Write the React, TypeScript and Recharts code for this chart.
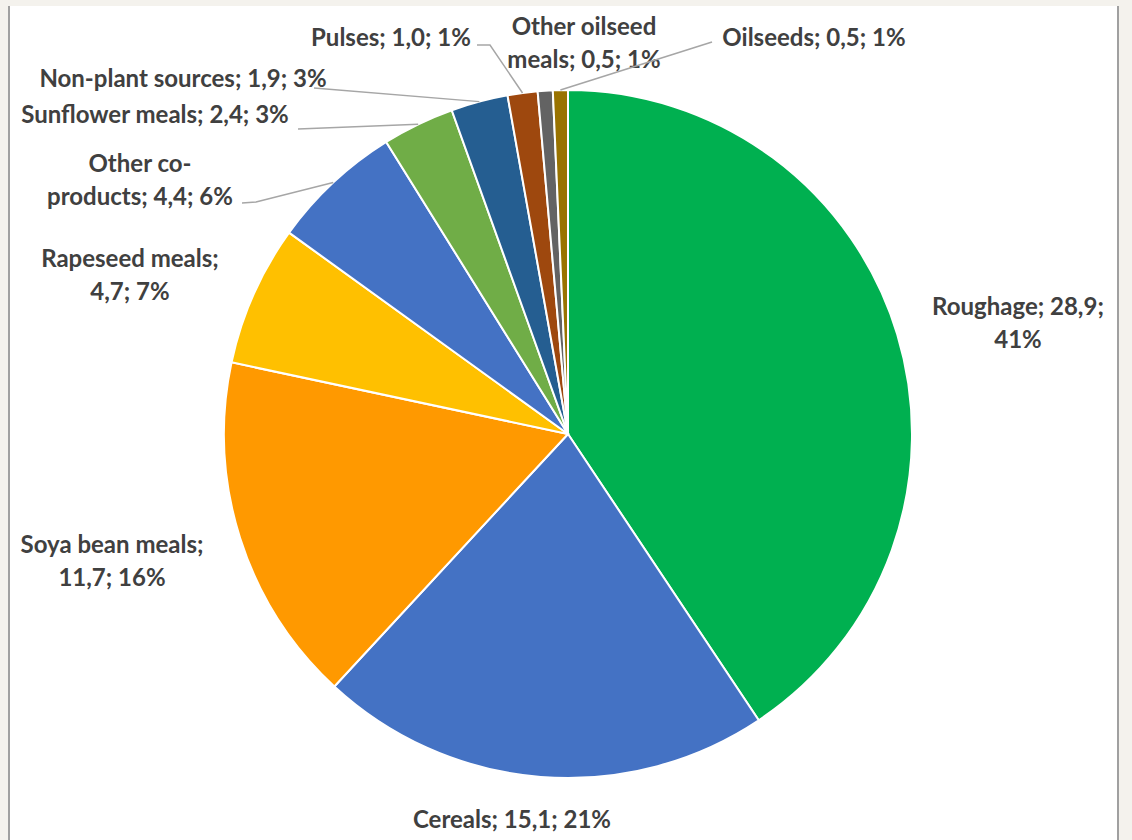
import { Pie, PieChart, Cell } from 'recharts'

const names = [
  'Roughage',
  'Cereals',
  'Soya bean meals',
  'Rapeseed meals',
  'Other co-products',
  'Sunflower meals',
  'Non-plant sources',
  'Pulses',
  'Other oilseed meals',
  'Oilseeds',
]
const values = [28.9, 15.1, 11.7, 4.7, 4.4, 2.4, 1.9, 1.0, 0.5, 0.5]
const colors = [
  '#00B050',
  '#4472C4',
  '#FF9900',
  '#FFC000',
  '#4472C4',
  '#70AD47',
  '#255E91',
  '#9E480E',
  '#636363',
  '#997300',
]

// where each label sits (centre x, first line y) and where it wraps
const labelLayout = [
  { x: 1018, y: 305, wrap: '28,9;' },
  { x: 512, y: 818, wrap: '' },
  { x: 112, y: 543, wrap: 'meals;' },
  { x: 130, y: 257, wrap: 'meals;' },
  { x: 140, y: 162, wrap: 'co-' },
  { x: 155, y: 113, wrap: '' },
  { x: 183, y: 77, wrap: '' },
  { x: 391, y: 36, wrap: '' },
  { x: 584, y: 25, wrap: 'oilseed' },
  { x: 814, y: 36, wrap: '' },
]
// leader line start points (null = no leader)
const leaders: (number[][] | null)[] = [
  null,
  null,
  null,
  null,
  [[242, 203], [256, 202]],
  [[298, 129]],
  [[314, 88]],
  [[477, 45], [490, 45]],
  null,
  [[712, 42]],
]

const data = names.map((name, i) => ({ name, value: values[i] }))

const RAD = Math.PI / 180
const LINE_H = 33

function renderLabel(props: any) {
  const { cx, cy, midAngle, outerRadius, index, value, percent, name } = props
  const layout = labelLayout[index]
  const text = `${name}; ${value.toFixed(1).replace('.', ',')}; ${Math.round(percent * 100)}%`
  let lines = [text]
  if (layout.wrap) {
    const cut = text.indexOf(layout.wrap) + layout.wrap.length
    lines = [text.slice(0, cut), text.slice(cut).trim()]
  }
  const lead = leaders[index]
  let pts = ''
  if (lead) {
    const ex = cx + Math.cos(-midAngle * RAD) * outerRadius
    const ey = cy + Math.sin(-midAngle * RAD) * outerRadius
    pts = [...lead.map((p) => p.join(',')), `${ex},${ey}`].join(' ')
  }
  return (
    <g key={`lbl-${index}`}>
      {lead && <polyline points={pts} fill="none" stroke="#A6A6A6" strokeWidth={1.5} />}
      {lines.map((ln, j) => (
        <text
          key={j}
          x={layout.x}
          y={layout.y + j * LINE_H}
          textAnchor="middle"
          dominantBaseline="central"
          fill="#404040"
          fontFamily="Lato, 'Open Sans', sans-serif"
          fontWeight={700}
          fontSize={24}
        >
          {ln}
        </text>
      ))}
    </g>
  )
}

export default function App() {
  return (
    <div
      style={{
        position: 'absolute',
        left: 0,
        top: 0,
        width: 1132,
        height: 840,
        background: '#F4F2ED',
      }}
    >
      <div
        style={{
          position: 'absolute',
          left: 8,
          top: 6,
          width: 1107,
          height: 834,
          background: '#fff',
          borderLeft: '2px solid #A0A0A0',
          borderRight: '2px solid #A0A0A0',
        }}
      />
      <div style={{ position: 'absolute', left: 0, top: 0 }}>
        <PieChart width={1132} height={840} margin={{ top: 0, right: 0, bottom: 0, left: 0 }}>
          <Pie
            data={data}
            dataKey="value"
            nameKey="name"
            cx={568}
            cy={434}
            outerRadius={344}
            startAngle={90}
            endAngle={-270}
            stroke="#fff"
            strokeWidth={2}
            label={renderLabel}
            labelLine={false}
            isAnimationActive={false}
          >
            {data.map((d, i) => (
              <Cell key={d.name} fill={colors[i]} />
            ))}
          </Pie>
        </PieChart>
      </div>
    </div>
  )
}
